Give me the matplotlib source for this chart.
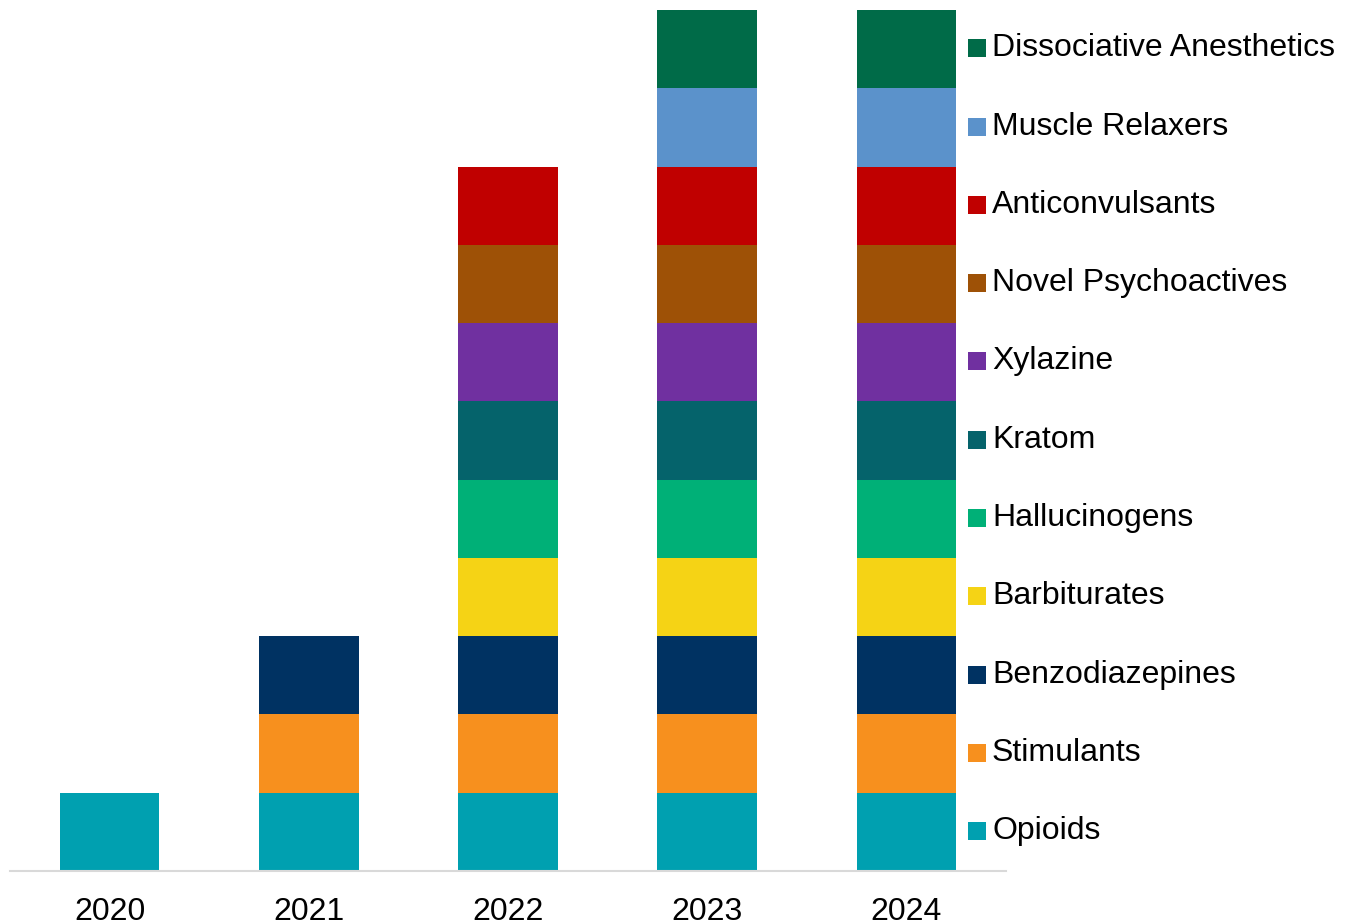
import matplotlib.pyplot as plt
import matplotlib.transforms as mtransforms

plt.rcParams['font.family'] = ['Liberation Sans', 'DejaVu Sans']

years = ['2020', '2021', '2022', '2023', '2024']

# stacking order, bottom to top
categories = ['Opioids', 'Stimulants', 'Benzodiazepines', 'Barbiturates',
              'Hallucinogens', 'Kratom', 'Xylazine', 'Novel Psychoactives',
              'Anticonvulsants', 'Muscle Relaxers', 'Dissociative Anesthetics']

opioids = [1, 1, 1, 1, 1]
stimulants = [0, 1, 1, 1, 1]
benzodiazepines = [0, 1, 1, 1, 1]
barbiturates = [0, 0, 1, 1, 1]
hallucinogens = [0, 0, 1, 1, 1]
kratom = [0, 0, 1, 1, 1]
xylazine = [0, 0, 1, 1, 1]
novel_psychoactives = [0, 0, 1, 1, 1]
anticonvulsants = [0, 0, 1, 1, 1]
muscle_relaxers = [0, 0, 0, 1, 1]
dissociative_anesthetics = [0, 0, 0, 1, 1]

series = [opioids, stimulants, benzodiazepines, barbiturates, hallucinogens,
          kratom, xylazine, novel_psychoactives, anticonvulsants,
          muscle_relaxers, dissociative_anesthetics]

colors = ['#00A0B0', '#F7901E', '#003262', '#F5D315', '#00B077', '#05636B',
          '#7030A0', '#9E5106', '#C00000', '#5B92CB', '#006B48']

fig = plt.figure(figsize=(13.47, 9.24), dpi=100)
ax = fig.add_axes([10 / 1347, 1 - 871 / 924, 996 / 1347, 861 / 924])

x = list(range(len(years)))
bottom = [0] * len(years)
for vals, col in zip(series, colors):
    ax.bar(x, vals, width=0.5, bottom=bottom, color=col, linewidth=0)
    bottom = [b + v for b, v in zip(bottom, vals)]

ax.set_xlim(-0.5, 4.5)
ax.set_ylim(0, 11)
ax.set_xticks(x)
ax.set_xticklabels(years, fontsize=23)
ax.tick_params(axis='x', length=0, pad=19)
ax.set_yticks([])
for s in ['top', 'right', 'left']:
    ax.spines[s].set_visible(False)
ax.spines['bottom'].set_color('#D9D9D9')
ax.spines['bottom'].set_linewidth(1.5)

# legend placed next to matching segments of the tallest bar
trans = mtransforms.blended_transform_factory(fig.transFigure, ax.transData)
for i, (name, col) in enumerate(zip(categories, colors)):
    yc = i + 0.51
    ax.scatter([976.5 / 1347], [yc], marker='s', s=150, color=col,
               transform=trans, clip_on=False, zorder=5, linewidths=0)
    ax.text(992 / 1347, yc, name, transform=trans, fontsize=23,
            va='center', ha='left', color='black')

fig.savefig('out.png', dpi=100)
